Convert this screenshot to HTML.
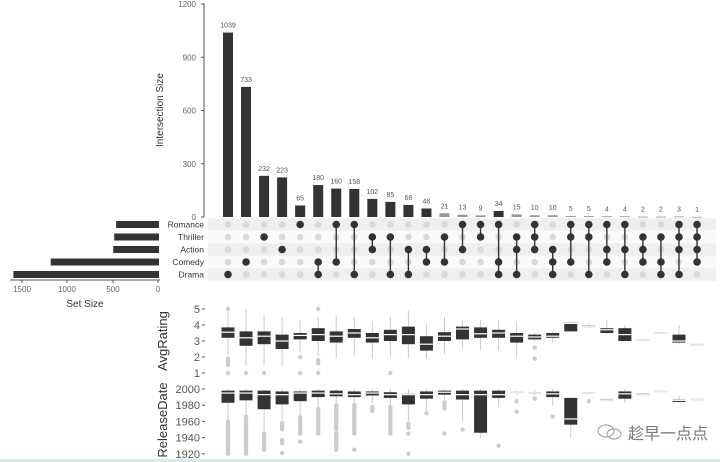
<!DOCTYPE html>
<html><head><meta charset="utf-8"><style>
html,body{margin:0;padding:0;background:#fff;width:720px;height:462px;overflow:hidden}
svg{display:block;font-family:"Liberation Sans","Noto Sans CJK SC",sans-serif}
</style></head><body>
<svg id="s" width="720" height="462" xmlns="http://www.w3.org/2000/svg"></svg>
<script>
const s=document.getElementById('s');let h='';
const cx=i=>228+i*18.04;
// top axis
const y0=217,k=213/1200;
h+=`<line x1="204" y1="3" x2="204" y2="${y0}" stroke="#555" stroke-width="1"/>`;
[0,300,600,900,1200].forEach(v=>{const y=y0-v*k;h+=`<text x="196" y="${y+3}" font-size="8" fill="#666" text-anchor="end">${v}</text><line x1="201" y1="${y}" x2="204" y2="${y}" stroke="#555"/>`;});
h+=`<text transform="translate(163,110) rotate(-90)" font-size="10" fill="#333" text-anchor="middle">Intersection Size</text>`;
const cnt=[1039,733,232,223,65,180,160,158,102,85,68,48,21,13,9,34,15,10,10,5,5,4,4,2,2,3,1];
cnt.forEach((c,i)=>{const x=cx(i);const hh=c*k;h+=`<rect x="${x-5}" y="${y0-hh}" width="10" height="${Math.max(hh,0.8)}" fill="${c<30?'#999':'#333'}"/><text x="${x}" y="${y0-hh-5}" font-size="7" fill="#555" text-anchor="middle">${c}</text>`;});
// matrix
const ry=[224.5,237,249.5,262,274.5];const names=['Romance','Thriller','Action','Comedy','Drama'];
ry.forEach((y,r)=>{h+=`<rect x="208" y="${y-6.2}" width="508" height="12.5" fill="${r%2==0?'#efefef':'#fafafa'}"/>`;h+=`<text x="204" y="${y+3}" font-size="8.5" fill="#333" text-anchor="end">${names[r]}</text>`;});
const mem=[[4],[3],[1],[2],[0],[3,4],[0,3],[0,4],[1,2],[1,4],[2,4],[2,3],[1,3],[0,2],[0,1],[0,3,4],[1,2,4],[0,1,2],[2,3,4],[0,1,3],[0,1,4],[0,2,3],[0,2,4],[1,2,3],[1,3,4],[0,1,2,4],[0,1,2,3]];
mem.forEach((m,i)=>{const x=cx(i);for(let r=0;r<5;r++){if(!m.includes(r))h+=`<circle cx="${x}" cy="${ry[r]}" r="3.3" fill="#d9d9d9"/>`;}
 if(m.length>1)h+=`<line x1="${x}" y1="${ry[Math.min(...m)]}" x2="${x}" y2="${ry[Math.max(...m)]}" stroke="#333" stroke-width="1.4"/>`;
 m.forEach(r=>h+=`<circle cx="${x}" cy="${ry[r]}" r="3.8" fill="#333"/>`);});
// set size
const sz=[471,492,503,1190,1600];
sz.forEach((v,r)=>{const w=v*0.091;h+=`<rect x="${159-w}" y="${ry[r]-3.5}" width="${w}" height="7" fill="#333"/>`;});
h+=`<line x1="10" y1="280" x2="160" y2="280" stroke="#555"/>`;
[[1500,22],[1000,67],[500,113],[0,158]].forEach(([v,x])=>{h+=`<line x1="${x}" y1="280" x2="${x}" y2="283" stroke="#555"/><text x="${x}" y="292" font-size="8" fill="#666" text-anchor="middle">${v}</text>`;});
h+=`<text x="85" y="307" font-size="10" fill="#333" text-anchor="middle">Set Size</text>`;
// boxplots
function panel(data,fy,ticks,label,ly){
 ticks.forEach(t=>{const y=fy(t);h+=`<text x="200" y="${y+4}" font-size="11" fill="#555" text-anchor="end">${t}</text><line x1="202" y1="${y}" x2="205" y2="${y}" stroke="#555"/>`;});
 h+=`<text transform="translate(167,${ly}) rotate(-90)" font-size="13" fill="#333" text-anchor="middle">${label}</text>`;
 data.forEach((d,i)=>{if(!d)return;const x=cx(i);const [q1,md,q3,lo,hi,out,light]=d;
  if(lo!=null)h+=`<line x1="${x}" y1="${fy(lo)}" x2="${x}" y2="${fy(hi)}" stroke="#ccc" stroke-width="1"/>`;
  const col=light?'#ccc':'#333';const t=fy(q3),b=fy(q1);
  h+=`<rect x="${x-6.5}" y="${t}" width="13" height="${Math.max(b-t,1.5)}" fill="${col}"/>`;
  h+=`<line x1="${x-6.5}" y1="${fy(md)}" x2="${x+6.5}" y2="${fy(md)}" stroke="${light?'#e8e8e8':'#fff'}" stroke-width="1.2"/>`;
  (out||[]).forEach(o=>{if(Array.isArray(o)){for(let v=o[0];v<=o[1];v+=(o[2]||1))h+=`<circle cx="${x}" cy="${fy(v)}" r="2.2" fill="#ccc"/>`;}else h+=`<circle cx="${x}" cy="${fy(o)}" r="2.2" fill="#ccc"/>`;});});
}
const fr=v=>373-(v-1)*16;
const rat=[[3.2,3.55,3.85,2.2,5,[[1.5,2,0.1],1,5]],[2.7,3.2,3.6,1.5,5,[1]],[2.8,3.3,3.6,1.5,4.6,[1]],[2.5,3.0,3.4,1.4,4.5],[3.1,3.35,3.5,2.3,4.3,[2,1]],[3.0,3.4,3.8,2.1,4.5,[5,1.8,1.6,1]],[2.9,3.3,3.6,1.9,4.6],[3.2,3.5,3.75,2.1,4.5],[2.9,3.2,3.5,1.9,4.2],[3.0,3.4,3.7,2,4.5,[1]],[2.8,3.4,3.9,1.9,4.9],[2.4,2.8,3.3,1.9,4.1],[3.0,3.3,3.55,2.2,4.5],[3.1,3.75,3.9,2.5,4.3],[3.2,3.45,3.85,2.4,4.3],[3.2,3.5,3.7,2.4,4.3],[2.9,3.3,3.5,2,4.2],[3.1,3.25,3.4,3,3.5,[2.6,1.9]],[3.2,3.3,3.5,2.9,3.6],[3.6,4.1,4.15,null,null],[3.85,3.9,4.0,3.8,4.1,null,1],[3.5,3.7,3.8,3.4,4.3],[3.0,3.4,3.8,3.0,4.0],[3.08,3.1,3.12,null,null,null,1],[3.5,3.52,3.55,null,null,null,1],[2.9,3.0,3.4,2.8,4.0],[2.78,2.8,2.82,null,null,null,1]];
panel(rat,fr,[1,2,3,4,5],'AvgRating',341);
const fd=v=>389+(2000-v)*0.81;
const rel=[[1983,1995,1998,1960,2000,[[1920,1960,2]]],[1986,1995,1998,1968,2000,[[1920,1967,2]]],[1975,1993,1998,1946,2000,[[1925,1945,2]]],[1981,1993,1997,1960,2000,[1921,1933,1937,[1950,1958,2]]],[1985,1995,1997,1967,2000,[1935,[1945,1965,2.5]]],[1990,1995,1998,1977,2000,[[1945,1975,2.5]]],[1991,1994,1998,1981,2000,[[1925,1945,2.5],[1950,1980,2.5]]],[1990,1993,1997,1982,2000,[1925,[1945,1980,2.5]]],[1992,1995,1997,1982,2000,[[1973,1980,2.5]]],[1989,1993,1996,1980,2000,[[1945,1978,2.5]]],[1981,1993,1994,1960,2000,[1920,1945,[1952,1958,2.5]]],[1988,1993,1997,1973,2000,[1970]],[1993,1996,1998,1987,2000,[1945,[1976,1985,2.5]]],[1987,1993,1998,1960,2000,[1950]],[1946,1993,1998,1940,2000],[1989,1993,1998,1978,2000,[1930]],[1995,1996,1997,1993,1998,[1985,1972],1],[1994,1995,1996,1992,1998,[1988],1],[1990,1994,1997,1980,2000,[1966]],[1956,1963,1989,1940,1990],[1994,1995,1996,null,null,[1985],1],[1985,1986,1988,null,null,null,1],[1988,1994,1997,1983,2000],[1992,1993,1995,null,null,null,1],[1996,1997,1998,null,null,null,1],[1984,1986,1987,1983,1992],[1986,1987,1988,null,null,null,1]];
panel(rel,fd,[1920,1940,1960,1980,2000],'ReleaseDate',420);
// watermark
h+=`<ellipse cx="606" cy="431" rx="8" ry="6" fill="none" stroke="#aaa" stroke-width="1.2"/><ellipse cx="614" cy="434" rx="7" ry="5" fill="none" stroke="#aaa" stroke-width="1.2"/>`;
h+=`<text x="628" y="439" font-size="16" fill="#777" font-family="Noto Sans CJK SC, sans-serif">趁早一点点</text>`;
h+=`<rect x="0" y="459" width="720" height="3" fill="#dfe9ec"/>`;
s.innerHTML=h;
</script>
</body></html>
